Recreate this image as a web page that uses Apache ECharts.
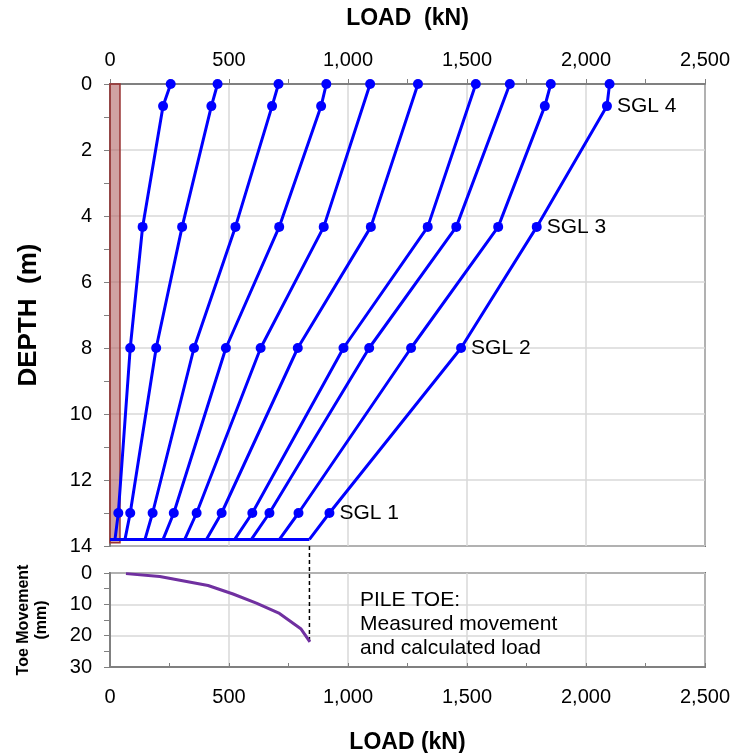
<!DOCTYPE html>
<html>
<head>
<meta charset="utf-8">
<script src="https://cdn.jsdelivr.net/npm/echarts@6/dist/echarts.min.js"></script>
<style>
  html, body { margin: 0; padding: 0; background: #fff; }
  #main { width: 737px; height: 753px; }
</style>
</head>
<body>
<div id="main"></div>
<script>
// gauge depths (m) : top, SGL 4, SGL 3, SGL 2, SGL 1, pile toe
var depths = [0, 0.67, 4.33, 8.0, 13.0, 13.8];

// load distribution for each load step (kN), null = no reading
var step1  = [255, 223, 137, 85, 35, 21];
var step2  = [452, 426, 303, 194, 85, 63];
var step3  = [708, 681, 527, 353, 179, 147];
var step4  = [909, 887, 711, 487, 268, 223];
var step5  = [1093, null, 898, 633, 364, 314];
var step6  = [1294, null, 1096, 789, 469, 405];
var step7  = [1537, null, 1335, 981, 598, 524];
var step8  = [1680, null, 1455, 1089, 670, 594];
var step9  = [1852, 1827, 1631, 1265, 792, 712];
var step10 = [2099, 2088, 1793, 1475, 922, 838];
var loadSteps = [step1, step2, step3, step4, step5, step6, step7, step8, step9, step10];

// gauge labels shown beside the last load step
var sglLabels = [null, 'SGL 4', 'SGL 3', 'SGL 2', 'SGL 1', null];

// pile toe: measured movement vs calculated load
var toeLoad = [67, 209, 412, 517, 615, 712, 803, 840];
var toeMove = [0.2, 1.1, 4.0, 6.7, 9.6, 12.9, 17.9, 22.0];

// pile shaft drawn as a shaded band
var pileWidth = 42;
var pileBottom = 13.9;

var loadTicks = function (v) {
    return v >= 1000 ? Math.floor(v / 1000) + ',' + String(v % 1000).padStart(3, '0') : String(v);
};

var chart = echarts.init(document.getElementById('main'));

var series = [];

// shaded pile (drawn on top, semi transparent)
series.push({
    type: 'line',
    xAxisIndex: 0,
    yAxisIndex: 0,
    data: [],
    z: 10,
    silent: true,
    markArea: {
        silent: true,
        itemStyle: {
            color: 'rgba(176, 100, 100, 0.6)',
            borderColor: '#993333',
            borderWidth: 1.5
        },
        data: [[{ coord: [0, 0] }, { coord: [pileWidth, pileBottom] }]]
    }
});

loadSteps.forEach(function (step, i) {
    var data = [];
    step.forEach(function (v, k) {
        if (v === null) return;
        var item = { value: [v, depths[k]] };
        if (k === depths.length - 1) item.symbol = 'none';
        if (i === loadSteps.length - 1 && sglLabels[k]) {
            item.label = {
                show: true,
                formatter: sglLabels[k],
                position: 'right',
                distance: 5,
                color: '#000',
                fontSize: 21,
                fontFamily: 'Liberation Sans'
            };
        }
        data.push(item);
    });
    series.push({
        name: 'Step ' + (i + 1),
        type: 'line',
        xAxisIndex: 0,
        yAxisIndex: 0,
        data: data,
        symbol: 'circle',
        symbolSize: 10,
        lineStyle: { color: '#0000ff', width: 3 },
        itemStyle: { color: '#0000ff' },
        z: 3
    });
});

// horizontal toe line
series.push({
    type: 'line',
    xAxisIndex: 0,
    yAxisIndex: 0,
    data: [[0, depths[5]], [step10[5], depths[5]]],
    symbol: 'none',
    lineStyle: { color: '#0000ff', width: 3 },
    z: 3
});

// toe movement curve
series.push({
    type: 'line',
    xAxisIndex: 1,
    yAxisIndex: 1,
    data: toeLoad.map(function (v, i) { return [v, toeMove[i]]; }),
    symbol: 'none',
    lineStyle: { color: '#7030a0', width: 3 },
    z: 3
});

// dashed link between toe load and toe movement
series.push({
    type: 'line',
    xAxisIndex: 1,
    yAxisIndex: 1,
    clip: false,
    data: [[step10[5], -8.6], [step10[5], toeMove[toeMove.length - 1]]],
    symbol: 'none',
    lineStyle: { color: '#000', width: 1.5, type: [4, 3] },
    z: 2
});

var tickFont = { color: '#000', fontSize: 20, fontFamily: 'Liberation Sans' };

option = {
    animation: false,
    backgroundColor: '#fff',
    grid: [
        { left: 110, right: 32, top: 84, height: 462, show: true, borderColor: '#000', borderWidth: 1.5, outerBoundsMode: 'none', containLabel: false },
        { left: 110, right: 32, top: 573, height: 94, show: true, borderColor: '#000', borderWidth: 1.5, outerBoundsMode: 'none', containLabel: false }
    ],
    xAxis: [
        {
            gridIndex: 0,
            type: 'value',
            position: 'top',
            min: 0,
            max: 2500,
            interval: 500,
            name: 'LOAD  (kN)',
            nameLocation: 'middle',
            nameGap: 54,
            nameTextStyle: { color: '#000', fontSize: 23, fontWeight: 'bold', fontFamily: 'Liberation Sans' },
            axisLine: { lineStyle: { color: '#808080', width: 2 } },
            axisTick: { show: true, length: 5, lineStyle: { color: '#808080' } },
            minorTick: { show: true, splitNumber: 2, length: 5, lineStyle: { color: '#808080' } },
            axisLabel: Object.assign({ margin: 14, formatter: loadTicks }, tickFont),
            splitLine: { show: true, lineStyle: { color: '#d9d9d9', width: 1.5 } }
        },
        {
            gridIndex: 1,
            type: 'value',
            position: 'bottom',
            min: 0,
            max: 2500,
            interval: 500,
            name: 'LOAD (kN)',
            nameLocation: 'middle',
            nameGap: 64,
            nameTextStyle: { color: '#000', fontSize: 23, fontWeight: 'bold', fontFamily: 'Liberation Sans' },
            axisLine: { onZero: false, lineStyle: { color: '#808080', width: 2 } },
            axisTick: { show: true, inside: true, length: 4, lineStyle: { color: '#808080' } },
            minorTick: { show: true, splitNumber: 2, length: 4, lineStyle: { color: '#808080' } },
            axisLabel: Object.assign({ margin: 20, formatter: loadTicks }, tickFont),
            splitLine: { show: true, lineStyle: { color: '#d9d9d9', width: 1.5 } }
        }
    ],
    yAxis: [
        {
            gridIndex: 0,
            type: 'value',
            inverse: true,
            min: 0,
            max: 14,
            interval: 2,
            name: 'DEPTH  (m)',
            nameLocation: 'middle',
            nameGap: 68,
            nameTextStyle: { color: '#000', fontSize: 26, fontWeight: 'bold', fontFamily: 'Liberation Sans' },
            axisLine: { show: true, lineStyle: { color: '#808080', width: 2 } },
            axisTick: { show: true, length: 6, lineStyle: { color: '#808080' } },
            minorTick: { show: true, splitNumber: 2, length: 6, lineStyle: { color: '#808080' } },
            axisLabel: Object.assign({ margin: 18 }, tickFont),
            splitLine: { show: true, lineStyle: { color: '#d9d9d9', width: 1.5 } }
        },
        {
            gridIndex: 1,
            type: 'value',
            inverse: true,
            min: 0,
            max: 30,
            interval: 10,
            name: 'Toe Movement\n(mm)',
            nameLocation: 'middle',
            nameGap: 59,
            nameTextStyle: { color: '#000', fontSize: 16, fontWeight: 'bold', fontFamily: 'Liberation Sans', lineHeight: 18 },
            axisLine: { show: true, lineStyle: { color: '#808080', width: 2 } },
            axisTick: { show: true, length: 6, lineStyle: { color: '#808080' } },
            minorTick: { show: true, splitNumber: 2, length: 6, lineStyle: { color: '#808080' } },
            axisLabel: Object.assign({ margin: 18 }, tickFont),
            splitLine: { show: true, lineStyle: { color: '#d9d9d9', width: 1.5 } }
        }
    ],
    graphic: [
        {
            type: 'text',
            left: 360,
            top: 588,
            style: {
                text: 'PILE TOE:\nMeasured movement\nand calculated load',
                fill: '#000',
                font: '21px "Liberation Sans"',
                lineHeight: 24
            },
            z: 20
        }
    ],
    series: series
};

chart.setOption(option);
</script>
</body>
</html>
